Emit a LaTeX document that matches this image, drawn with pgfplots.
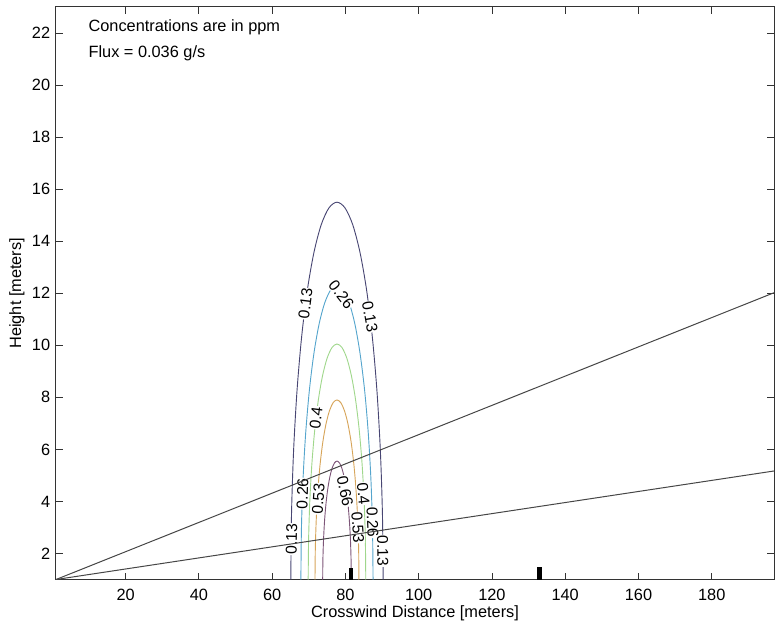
\documentclass[border=0pt]{standalone}
\usepackage{fontspec}
\setmainfont{Liberation Sans}
\usepackage{pgfplots}
\pgfplotsset{compat=1.18}
\definecolor{cA}{RGB}{72,70,115}
\definecolor{cB}{RGB}{85,165,205}
\definecolor{cC}{RGB}{160,215,140}
\definecolor{cD}{RGB}{215,165,90}
\definecolor{cE}{RGB}{125,85,120}
\definecolor{ln}{RGB}{70,70,70}
\begin{document}
\begin{tikzpicture}
\begin{axis}[
  at={(0,0)}, anchor=south west,
  scale only axis, width=430.8pt, height=343.5pt,
  xmin=1, xmax=197, ymin=1, ymax=23,
  xtick={20,40,...,180}, ytick={2,4,...,22},
  tick align=inside, major tick length=4pt,
  axis line style={black!80, line width=0.6pt}, tick style={black!80, line width=0.5pt},
  every tick label/.append style={font=\fontsize{9.8}{11}\selectfont},
  /pgf/number format/assume math mode=true,
  xticklabel style={yshift=-2.5pt},
  xlabel={Crosswind Distance [meters]}, ylabel={Height [meters]},
  label style={font=\fontsize{9.8}{11}\selectfont},
  xlabel style={at={(axis description cs:0.5,-0.0585)},anchor=center},
  ylabel style={at={(axis description cs:-0.0543,0.5)},anchor=center},
  clip=true,
]
% contour 0.13
\addplot[cA, line width=0.55pt, smooth] coordinates {(90.3,1) (90.11,3.517) (89.54,5.959) (88.61,8.25) (87.35,10.32) (85.80,12.11) (84.0,13.56) (82.01,14.63) (79.89,15.28) (77.7,15.5) (75.51,15.28) (73.39,14.63) (71.4,13.56) (69.60,12.11) (68.05,10.32) (66.79,8.25) (65.86,5.959) (65.29,3.517) (65.1,1)};
% contour 0.26
\addplot[cB, line width=0.55pt, smooth] coordinates {(87.55,1) (87.40,2.962) (86.96,4.865) (86.23,6.65) (85.25,8.264) (84.03,9.656) (82.63,10.79) (81.07,11.62) (79.41,12.13) (77.7,12.3) (75.99,12.13) (74.33,11.62) (72.78,10.79) (71.37,9.656) (70.16,8.264) (69.17,6.65) (68.44,4.865) (68.0,2.962) (67.85,1)};
% contour 0.4
\addplot[cC, line width=0.55pt, smooth] coordinates {(85.56,1) (85.44,2.571) (85.09,4.095) (84.51,5.525) (83.72,6.817) (82.75,7.932) (81.63,8.837) (80.39,9.504) (79.07,9.912) (77.7,10.05) (76.34,9.912) (75.01,9.504) (73.77,8.837) (72.65,7.932) (71.68,6.817) (70.89,5.525) (70.31,4.095) (69.96,2.571) (69.84,1)};
% contour 0.53
\addplot[cD, line width=0.55pt, smooth] coordinates {(83.7,1) (83.61,2.198) (83.34,3.36) (82.90,4.45) (82.30,5.435) (81.56,6.285) (80.7,6.975) (79.75,7.484) (78.74,7.795) (77.7,7.9) (76.66,7.795) (75.65,7.484) (74.7,6.975) (73.84,6.285) (73.10,5.435) (72.50,4.45) (72.06,3.36) (71.79,2.198) (71.7,1)};
% contour 0.66
\addplot[cE, line width=0.55pt, smooth] coordinates {(81.6,1) (81.54,1.79) (81.37,2.556) (81.08,3.275) (80.69,3.925) (80.21,4.485) (79.65,4.94) (79.03,5.276) (78.38,5.481) (77.7,5.55) (77.02,5.481) (76.37,5.276) (75.75,4.94) (75.19,4.485) (74.71,3.925) (74.32,3.275) (74.04,2.556) (73.86,1.79) (73.8,1)};
% contour labels
\begin{scope}[every node/.style={font=\fontsize{9.4}{10}\selectfont, fill=white, inner sep=0.4pt}]
\node[rotate=83] at (axis cs:69.1,11.6) {0.13};
\node[rotate=-52] at (axis cs:78.9,11.95) {0.26};
\node[rotate=-80] at (axis cs:86.7,11.1) {0.13};
\node[rotate=83] at (axis cs:72.0,7.22) {0.4};
\node[rotate=89] at (axis cs:65.3,2.55) {0.13};
\node[rotate=88] at (axis cs:68.3,4.3) {0.26};
\node[rotate=86] at (axis cs:72.6,4.1) {0.53};
\node[rotate=-78] at (axis cs:79.9,4.4) {0.66};
\node[rotate=-84] at (axis cs:84.9,4.3) {0.4};
\node[rotate=-86] at (axis cs:83.4,3.0) {0.53};
\node[rotate=-88] at (axis cs:87.4,3.2) {0.26};
\node[rotate=-89] at (axis cs:90.2,2.1) {0.13};
\end{scope}
% straight lines
\addplot[ln, line width=0.6pt] coordinates {(1,1) (197,12.02)};
\addplot[ln, line width=0.6pt] coordinates {(1,1) (197,5.17)};
% sensor bars
\addplot[fill=black, draw=none] coordinates {(80.9,1) (80.9,1.45) (82.1,1.45) (82.1,1)} -- cycle;
\addplot[fill=black, draw=none] coordinates {(132.4,1) (132.4,1.49) (133.7,1.49) (133.7,1)} -- cycle;
% annotations
\node[anchor=base west, inner sep=0pt, font=\fontsize{9.8}{11}\selectfont] at (axis cs:9.8,22.06) {Concentrations are in ppm};
\node[anchor=base west, inner sep=0pt, font=\fontsize{9.8}{11}\selectfont] at (axis cs:9.8,21.04) {Flux = 0.036 g/s};
\end{axis}
\pgfresetboundingbox
\path[use as bounding box] (-33.6pt,-29.1pt) rectangle (431.4pt,347.7pt);
\end{tikzpicture}
\end{document}
